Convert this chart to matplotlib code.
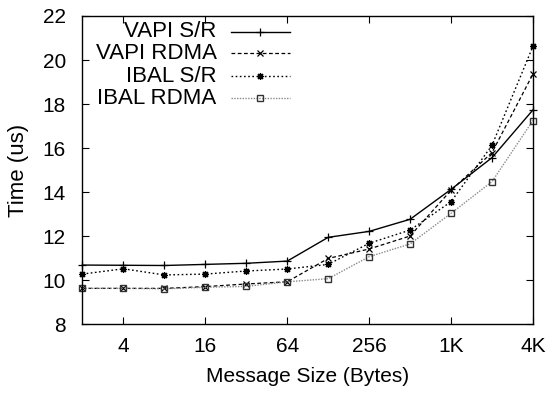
import matplotlib
matplotlib.use("Agg")
import matplotlib.pyplot as plt
import numpy as np

plt.rcParams['font.family'] = ['Liberation Sans', 'DejaVu Sans']

sizes = [2, 4, 8, 16, 32, 64, 128, 256, 512, 1024, 2048, 4096]
vapi_sr = [10.68, 10.67, 10.66, 10.71, 10.76, 10.86, 11.94, 12.21, 12.76, 14.12, 15.56, 17.73]
vapi_rdma = [9.62, 9.62, 9.62, 9.70, 9.82, 9.92, 10.98, 11.41, 12.00, 14.08, 15.79, 19.36]
ibal_sr = [10.27, 10.51, 10.23, 10.27, 10.41, 10.50, 10.71, 11.67, 12.27, 13.56, 16.12, 20.62]
ibal_rdma = [9.62, 9.62, 9.60, 9.67, 9.71, 9.92, 10.06, 11.06, 11.64, 13.03, 14.47, 17.25]

labels = ["VAPI S/R", "VAPI RDMA", "IBAL S/R", "IBAL RDMA"]
xticks = [4, 16, 64, 256, 1024, 4096]
xticklabels = ["4", "16", "64", "256", "1K", "4K"]
yticks = [8, 10, 12, 14, 16, 18, 20, 22]

styles = [
    dict(color="black", ls="-", marker="+", ms=6, mew=0.9, mfc="none", mec="black", lw=1.0),
    dict(color="black", ls=(0, (3, 2)), marker="x", ms=4.5, mew=0.9, mfc="none", mec="black", lw=0.9),
    dict(color="black", ls=(0, (1.2, 1.8)), marker=(8, 2, 0), ms=5, mew=0.9, mfc="none", mec="black", lw=1.0),
    dict(color="#8a8a8a", ls=(0, (1, 1)), marker="s", ms=4.5, mew=1.0, mfc="none", mec="#333333", lw=1.0),
]
series = [vapi_sr, vapi_rdma, ibal_sr, ibal_rdma]

fig = plt.figure(figsize=(5.48, 3.95), dpi=100)
ax = fig.add_axes([0.1505, 0.1797, 0.822, 0.7798])

for vals, st in zip(series, styles):
    ax.plot(sizes, vals, **st, clip_on=False)

ax.set_xscale("log", base=2)
ax.set_xlim(2, 4096)
ax.set_ylim(8, 22)
ax.set_xticks(xticks)
ax.set_xticklabels(xticklabels)
ax.minorticks_off()
ax.set_yticks(yticks)
ax.tick_params(direction="in", top=True, right=True, length=5, width=0.8,
               labelsize=15, pad=9)
ax.tick_params(axis="y", pad=12)
for s in ax.spines.values():
    s.set_linewidth(1.0)

ax.set_xlabel("Message Size (Bytes)", fontsize=15, labelpad=8)
ax.set_ylabel("Time (us)", fontsize=16, labelpad=10)

# gnuplot-style key: right-aligned text, sample line on the right
key_y = [0.949, 0.879, 0.805, 0.733]
for lab, st, ky in zip(labels, styles, key_y):
    ax.text(0.2976, ky, lab, transform=ax.transAxes, ha="right", va="center", fontsize=16)
    ax.plot([0.329, 0.394, 0.46], [ky, ky, ky], transform=ax.transAxes,
            markevery=[1], **st, clip_on=False)

fig.savefig("out.png", dpi=100)
